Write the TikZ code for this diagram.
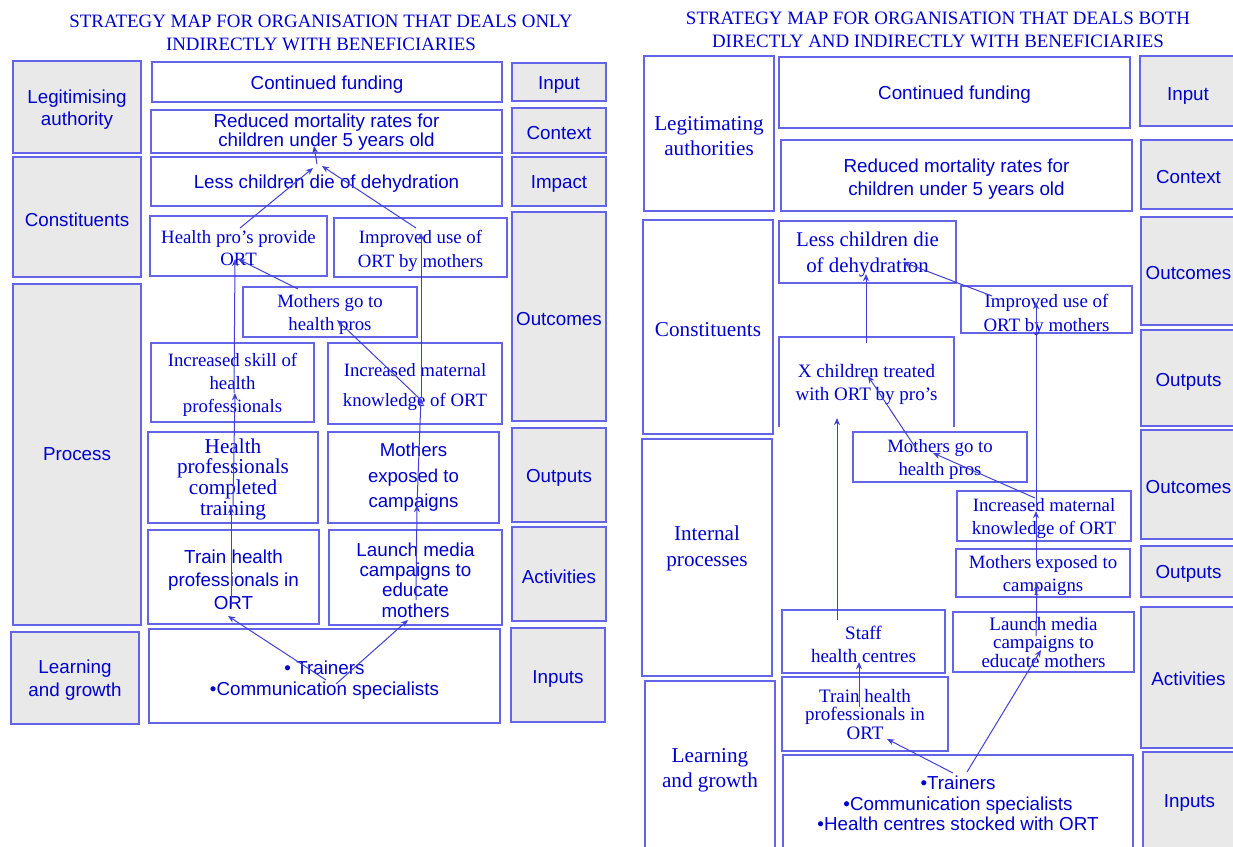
\documentclass[tikz,border=0pt]{standalone}
\usepackage{fontspec}
\setmainfont{Liberation Serif}
\setsansfont{Liberation Sans}
\usetikzlibrary{arrows.meta}
\definecolor{txtblue}{RGB}{0,0,204}
\definecolor{edgeblue}{RGB}{100,100,232}
\definecolor{linkblue}{RGB}{64,64,214}
\definecolor{panelgray}{RGB}{233,233,233}
\tikzset{
  plain/.style={inner sep=0pt, outer sep=0pt, align=center, text=txtblue},
  box/.style={plain, draw=edgeblue, line width=0.8pt},
  gbox/.style={box, fill=panelgray},
  sf/.style 2 args={font=\sffamily\fontsize{#1}{#2}\selectfont},
  rm/.style 2 args={font=\rmfamily\fontsize{#1}{#2}\selectfont},
  link/.style={draw=linkblue, line width=0.5pt, -{Stealth[length=3.6pt,width=3pt]}},
  title/.style={plain, rm={9.45}{11.5}},
}
% \bx{box style}{text style}{name}{x1}{y1}{x2}{y2}{text}:
% a frame filling the rectangle (x1,y1)-(x2,y2) and its text, set a little below centre
\newcommand{\bx}[8]{%
  \node[#1, minimum width={(#6-#4)*0.5pt}, minimum height={(#7-#5)*0.5pt}]
    (#3) at ({(#4+#6)/2},{(#5+#7)/2}) {};
  \node[plain, yshift=-1.25pt, #2] (#3t) at (#3.center) {#8};}
\begin{document}
\begin{tikzpicture}[x=0.5pt,y=-0.5pt]
\useasboundingbox (0,0) rectangle (1233,847);
\clip (0,0) rectangle (1233,847);

% ---------------- left map: indirect only ----------------
\node[title] (Ltitle) at (321,32.5) {STRATEGY MAP FOR ORGANISATION THAT DEALS ONLY\\INDIRECTLY WITH BENEFICIARIES};

% perspective column
\bx{gbox}{sf={9.4}{11}}{Llegit}{13}{61}{141}{153}{Legitimising\\authority}
\bx{gbox}{sf={9.4}{11}}{Lconst}{13}{157}{141}{277}{Constituents}
\bx{gbox}{sf={9.4}{11}, yshift=1.25pt}{Lproc}{13}{284}{141}{625}{Process}
\bx{gbox}{sf={9.4}{11.5}}{Llearn}{11}{632}{139}{724}{Learning\\and growth}

% objectives
\bx{box}{sf={9.4}{11}}{Lfund}{152}{62}{502}{102}{Continued funding}
\bx{box}{sf={9.4}{9.6}, yshift=0.8pt}{Lred}{151}{110}{502}{153}{Reduced mortality rates for\\ children under 5 years old}
\bx{box}{sf={9.4}{11}}{Lless}{151}{157}{502}{206}{Less children die of dehydration}
\bx{box}{rm={9.4}{11}}{Lhpro}{150}{216}{327}{276}{Health pro’s provide\\ORT}
\bx{box}{rm={9.4}{12.2}, yshift=-0.6pt}{Limpr}{334}{218}{507}{277}{Improved use of\\ORT by mothers}
\bx{box}{rm={9.4}{11.5}}{Lmgo}{243}{287}{417}{337}{Mothers go to\\health pros}
\bx{box}{rm={9.4}{11.5}}{Lskill}{151}{343}{314}{422}{Increased skill of\\health\\professionals}
\bx{box}{rm={9.4}{14.8}, yshift=-0.6pt}{Lknow}{328}{343}{502}{424}{Increased maternal\\knowledge of ORT}
\bx{box}{rm={10.6}{10.35}, yshift=0.4pt}{Lhpct}{148}{432}{318}{523}{Health\\professionals\\completed\\training}
\bx{box}{sf={9.3}{12.75}, yshift=1.25pt}{Lmexp}{328}{432}{499}{523}{Mothers\\exposed to\\campaigns}
\bx{box}{sf={9.4}{11.5}}{Ltrain}{148}{530}{319}{624}{Train health\\professionals in\\ORT}
\bx{box}{sf={9.4}{10.2}}{Llaunch}{329}{530}{502}{625}{Launch media\\campaigns to\\educate\\mothers}
\bx{box}{sf={9.4}{10.5}, yshift=-0.6pt}{Linp}{149}{629}{500}{723}{• Trainers\\•Communication specialists}

% level column
\bx{gbox}{sf={9.4}{11}}{Lin}{512}{63}{606}{101}{Input}
\bx{gbox}{sf={9.4}{11}}{Lctx}{512}{108}{606}{153}{Context}
\bx{gbox}{sf={9.4}{11}}{Limp}{512}{157}{606}{206}{Impact}
\bx{gbox}{sf={9.4}{11}}{Loutc}{512}{212}{606}{421}{Outcomes}
\bx{gbox}{sf={9.4}{11}}{Loutp}{512}{428}{606}{522}{Outputs}
\bx{gbox}{sf={9.4}{11}}{Lact}{512}{527}{606}{621}{Activities}
\bx{gbox}{sf={9.4}{11}, yshift=-0.6pt}{Linps}{511}{628}{605}{722}{Inputs}

% cause and effect links
\draw[link] ([shift={(1.5,4)}]Linp.center) -- ([shift={(-5.5,39)}]Ltrain.center);
\draw[link] ([shift={(11.5,8)}]Linp.center) -- ([shift={(-7.5,42.5)}]Llaunch.center);
\draw[link] ([shift={(-2.5,30)}]Ltrain.center) -- ([shift={(-2,28.5)}]Lhpct.center);
\draw[link] ([shift={(0,28.5)}]Lhpct.center) -- ([shift={(2.5,10.5)}]Lskill.center);
\draw[link] ([shift={(1.5,10.5)}]Lskill.center) -- ([shift={(-3.5,13)}]Lhpro.center);
\draw[link] ([shift={(0.5,22.5)}]Llaunch.center) -- ([shift={(3.5,27.5)}]Lmexp.center);
\draw[link] ([shift={(3.5,27.5)}]Lmexp.center) -- ([shift={(6,14.5)}]Lknow.center);
\draw[link] ([shift={(6,14.5)}]Lknow.center) -- ([shift={(0.5,-14.5)}]Limpr.center);
\draw[link] ([shift={(6,16.5)}]Lknow.center) -- ([shift={(7,8)}]Lmgo.center);
\draw[link] ([shift={(-32,-23)}]Lmgo.center) -- ([shift={(-0.5,13)}]Lhpro.center);
\draw[link] ([shift={(1.5,-18)}]Lhpro.center) -- ([shift={(-13.5,-13.5)}]Lless.center);
\draw[link] ([shift={(-4.5,-19.5)}]Limpr.center) -- ([shift={(-4.5,-15.5)}]Lless.center);
\draw[link] ([shift={(-9.5,-17.5)}]Lless.center) -- ([shift={(-12.5,14.5)}]Lred.center);

% ---------------- right map: direct and indirect ----------------
\node[title] (Rtitle) at (938,29.5) {STRATEGY MAP FOR ORGANISATION THAT DEALS BOTH\\DIRECTLY AND INDIRECTLY WITH BENEFICIARIES};

% perspective column
\bx{box}{rm={10.6}{12.5}}{Rlegit}{644}{56}{774}{211}{Legitimating\\authorities}
\bx{box}{rm={10.6}{12.5}}{Rconst}{643}{220}{773}{434}{Constituents}
\bx{box}{rm={10.6}{13}, yshift=6pt}{Rintp}{642}{439}{772}{676}{Internal\\processes}
\bx{box}{rm={10.6}{12.5}, yshift=-0.3pt}{Rlearn}{645}{681}{775}{853}{Learning\\and growth}

% objectives
\bx{box}{sf={9.4}{11}}{Rfund}{779}{57}{1130}{128}{Continued funding}
\bx{box}{sf={9.4}{11.5}, yshift=-0.6pt}{Rred}{781}{140}{1132}{211}{Reduced mortality rates for\\children under 5 years old}
\bx{box}{rm={10.45}{13}}{Rless}{779}{221}{956}{283}{Less children die\\of dehydration}
\bx{box}{rm={9.45}{12}, yshift=-1.2pt}{Rimpr}{961}{286}{1132}{333}{Improved use of\\ORT by mothers}
\bx{plain}{rm={9.5}{11.5}}{Rxch}{779}{337}{954}{427}{X children treated\\with ORT by pro’s}
\draw[draw=edgeblue, line width=0.8pt] (Rxch.south west) -- (Rxch.north west) -- (Rxch.north east) -- (Rxch.south east);
\bx{box}{rm={9.4}{11.5}}{Rmgo}{853}{432}{1027}{482}{Mothers go to\\health pros}
\bx{box}{rm={9.4}{11.5}}{Rknow}{957}{491}{1131}{541}{Increased maternal\\knowledge of ORT}
\bx{box}{rm={9.4}{11.5}}{Rmexp}{956}{549}{1130}{597}{Mothers exposed to\\campaigns}
\bx{box}{rm={9.5}{11.5}}{Rstaff}{782}{610}{945}{673}{Staff\\health centres}
\bx{box}{rm={9.5}{9.25}, yshift=1.25pt}{Rlaunch}{953}{612}{1134}{672}{Launch media\\campaigns to\\educate mothers}
\bx{box}{rm={9.5}{9.25}, yshift=1.25pt}{Rtrain}{782}{677}{948}{751}{Train health\\professionals in\\ORT}
\bx{box}{sf={9.4}{10.25}, yshift=0.8pt}{Rinp}{783}{755}{1133}{850}{•Trainers\\•Communication specialists\\•Health centres stocked with ORT}

% level column
\bx{gbox}{sf={9.4}{11}, yshift=-1.2pt}{Rin}{1140}{56}{1236}{126}{Input}
\bx{gbox}{sf={9.4}{11}}{Rctx}{1141}{140}{1236}{209}{Context}
\bx{gbox}{sf={9.4}{11}}{Routc}{1141}{217}{1236}{325}{Outcomes}
\bx{gbox}{sf={9.4}{11}, yshift=-0.6pt}{Routp}{1141}{330}{1236}{426}{Outputs}
\bx{gbox}{sf={9.4}{11}}{Routcb}{1141}{430}{1236}{539}{Outcomes}
\bx{gbox}{sf={9.4}{11}}{Routpb}{1141}{546}{1236}{597}{Outputs}
\bx{gbox}{sf={9.4}{11}, yshift=0.6pt}{Ract}{1141}{607}{1236}{748}{Activities}
\bx{gbox}{sf={9.4}{11}, yshift=1.25pt}{Rinps}{1143}{752}{1236}{853}{Inputs}

% cause and effect links
\draw[link] ([shift={(-5,-29.5)}]Rinp.center) -- ([shift={(22,25)}]Rtrain.center);
\draw[link] ([shift={(9,-30.5)}]Rinp.center) -- ([shift={(-2.5,8)}]Rlaunch.center);
\draw[link] ([shift={(-6,-7)}]Rtrain.center) -- ([shift={(-4.5,20.5)}]Rstaff.center);
\draw[link] ([shift={(-7.5,-6)}]Rlaunch.center) -- ([shift={(-6,10)}]Rmexp.center);
\draw[link] ([shift={(-26.5,-21.5)}]Rstaff.center) -- ([shift={(-29.5,36)}]Rxch.center);
\draw[link] ([shift={(-7,-10)}]Rmexp.center) -- ([shift={(-8,-5)}]Rknow.center);
\draw[link] ([shift={(-8,-5)}]Rknow.center) -- ([shift={(-10.5,-7.5)}]Rimpr.center);
\draw[link] ([shift={(-9,-18)}]Rknow.center) -- ([shift={(-7,-4)}]Rmgo.center);
\draw[link] ([shift={(-23,-7)}]Rmgo.center) -- ([shift={(1.5,-6)}]Rxch.center);
\draw[link] ([shift={(-0.5,-39)}]Rxch.center) -- ([shift={(-1.5,22)}]Rless.center);
\draw[link] ([shift={(-54.5,-13.5)}]Rimpr.center) -- ([shift={(35.5,10)}]Rless.center);
\end{tikzpicture}
\end{document}
